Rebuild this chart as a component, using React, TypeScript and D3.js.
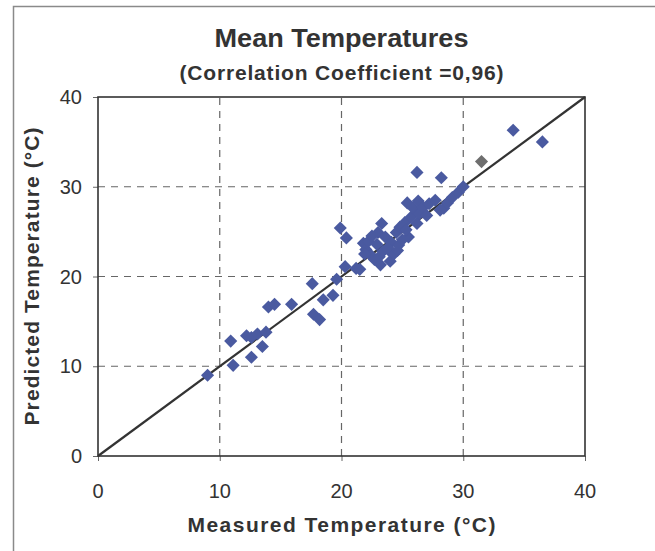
import React, { useEffect, useRef } from 'react';
import * as d3 from 'd3';

// measured vs predicted mean temperatures (°C)
const MEASURED = [
  9.0, 10.9, 11.1, 12.2, 12.6, 12.6, 13.1, 13.5, 13.8, 14.0, 14.5, 15.9,
  17.6, 17.7, 18.2, 18.5, 19.3, 19.6, 19.9, 20.4, 20.3, 21.2, 21.5, 21.8,
  22.0, 22.2, 22.4, 22.7, 22.9, 23.0, 23.2, 23.3, 23.4, 23.6, 23.9, 24.0,
  24.1, 24.3, 24.5, 24.7, 24.8, 25.0, 25.2, 25.4, 25.5, 25.7, 25.9, 26.2,
  26.3, 26.4, 26.7, 27.0, 27.2, 27.7, 28.1, 28.4, 28.7, 29.1, 29.6, 30.0,
  26.2, 28.2, 34.1, 36.5, 22.5, 23.8, 24.6, 25.3, 21.9, 23.1
];
const PREDICTED = [
  9.0, 12.8, 10.1, 13.4, 11.0, 13.2, 13.6, 12.2, 13.8, 16.6, 16.9, 16.9,
  19.2, 15.8, 15.2, 17.4, 17.9, 19.7, 25.4, 24.3, 21.1, 20.9, 20.8, 23.7,
  23.0, 23.9, 22.4, 21.9, 23.6, 24.9, 21.3, 25.9, 22.8, 24.4, 22.9, 21.7,
  23.8, 22.5, 24.9, 23.5, 25.5, 24.1, 26.0, 28.2, 24.4, 26.6, 27.6, 25.9,
  28.4, 27.0, 27.7, 26.8, 28.1, 28.5, 27.4, 27.6, 28.2, 28.8, 29.4, 30.0,
  31.6, 31.0, 36.3, 35.0, 24.5, 23.2, 22.9, 25.2, 22.5, 22.2
];
// the one grey point
const OUTLIER_MEASURED = [31.5];
const OUTLIER_PREDICTED = [32.8];

const TICKS = [0, 10, 20, 30, 40];
const DOMAIN: [number, number] = [0, 40];

const W = 655;
const H = 551;
const M = { left: 98, right: 70, top: 97, bottom: 95 };
const FONT = '"Liberation Sans", Arial, sans-serif';
const INK = '#333';

export default function App() {
  const ref = useRef<SVGSVGElement | null>(null);

  useEffect(() => {
    const svg = d3.select(ref.current);
    svg.selectAll('*').remove();

    const x = d3.scaleLinear().domain(DOMAIN).range([M.left, W - M.right]);
    const y = d3.scaleLinear().domain(DOMAIN).range([H - M.bottom, M.top]);

    svg.append('rect').attr('width', W).attr('height', H).attr('fill', '#fff');

    // outer chart frame (only top and left edges visible in the crop)
    svg.append('rect')
      .attr('x', 13.5).attr('y', 6.5)
      .attr('width', W + 20).attr('height', H + 20)
      .attr('fill', 'none').attr('stroke', '#8a8a8a').attr('stroke-width', 1.5);

    // dashed grid
    const grid = svg.append('g').attr('stroke', '#666').attr('stroke-width', 1.2)
      .attr('stroke-dasharray', '7,6');
    TICKS.slice(1, -1).forEach(t => {
      grid.append('line')
        .attr('x1', x(0)).attr('x2', x(40)).attr('y1', y(t)).attr('y2', y(t));
      grid.append('line')
        .attr('x1', x(t)).attr('x2', x(t)).attr('y1', y(0)).attr('y2', y(40));
    });

    // axes with outside tick marks
    const xAxis = d3.axisBottom(x).tickValues(TICKS).tickSize(5).tickFormat(() => '');
    const yAxis = d3.axisLeft(y).tickValues(TICKS).tickSize(5).tickFormat(() => '');
    const gx = svg.append('g').attr('transform', `translate(0,${y(0)})`).call(xAxis);
    const gy = svg.append('g').attr('transform', `translate(${x(0)},0)`).call(yAxis);
    [gx, gy].forEach(g => {
      g.select('.domain').remove();
      g.selectAll('line').attr('stroke', '#666');
    });

    svg.append('rect')
      .attr('x', x(0)).attr('y', y(40))
      .attr('width', x(40) - x(0)).attr('height', y(0) - y(40))
      .attr('fill', 'none').attr('stroke', INK).attr('stroke-width', 1.6);

    // tick labels
    svg.append('g').selectAll('text').data(TICKS).join('text')
      .attr('x', d => x(d)).attr('y', y(0) + 42)
      .attr('text-anchor', 'middle')
      .attr('font-family', FONT).attr('font-size', 20).attr('fill', INK)
      .text(d => d);
    svg.append('g').selectAll('text').data(TICKS).join('text')
      .attr('x', x(0) - 16).attr('y', d => y(d) + 7)
      .attr('text-anchor', 'end')
      .attr('font-family', FONT).attr('font-size', 20).attr('fill', INK)
      .text(d => d);

    // 1:1 line
    svg.append('path')
      .datum(DOMAIN)
      .attr('d', d3.line<number>().x(d => x(d)).y(d => y(d)))
      .attr('stroke', INK).attr('stroke-width', 2.2).attr('fill', 'none');

    // diamonds
    const diamond = d3.symbol(d3.symbolSquare, 86)();
    svg.append('g').selectAll('path').data(d3.range(MEASURED.length)).join('path')
      .attr('d', diamond)
      .attr('transform', i => `translate(${x(MEASURED[i])},${y(PREDICTED[i])}) rotate(45)`)
      .attr('fill', '#4a5aa0');
    svg.append('g').selectAll('path').data(d3.range(OUTLIER_MEASURED.length)).join('path')
      .attr('d', diamond)
      .attr('transform', i => `translate(${x(OUTLIER_MEASURED[i])},${y(OUTLIER_PREDICTED[i])}) rotate(45)`)
      .attr('fill', '#6e6e6e');

    // titles
    const cx = (x(0) + x(40)) / 2;
    svg.append('text')
      .attr('x', cx).attr('y', 47).attr('text-anchor', 'middle')
      .attr('font-family', FONT).attr('font-size', 26).attr('font-weight', 'bold').attr('fill', INK)
      .attr('textLength', 254).attr('lengthAdjust', 'spacingAndGlyphs')
      .text('Mean Temperatures');
    svg.append('text')
      .attr('x', cx).attr('y', 80).attr('text-anchor', 'middle')
      .attr('font-family', FONT).attr('font-size', 21).attr('font-weight', 'bold').attr('fill', INK)
      .attr('textLength', 324).attr('lengthAdjust', 'spacing')
      .text('(Correlation Coefficient =0,96)');
    svg.append('text')
      .attr('x', cx).attr('y', 532).attr('text-anchor', 'middle')
      .attr('font-family', FONT).attr('font-size', 21).attr('font-weight', 'bold').attr('fill', INK)
      .attr('textLength', 308).attr('lengthAdjust', 'spacing')
      .text('Measured Temperature (°C)');
    svg.append('text')
      .attr('transform', `translate(39,${(y(0) + y(40)) / 2}) rotate(-90)`)
      .attr('text-anchor', 'middle')
      .attr('font-family', FONT).attr('font-size', 21).attr('font-weight', 'bold').attr('fill', INK)
      .attr('textLength', 298).attr('lengthAdjust', 'spacing')
      .text('Predicted Temperature (°C)');
  }, []);

  return (
    <div style={{ position: 'fixed', left: 0, top: 0 }}>
      <svg ref={ref} width={W} height={H} style={{ display: 'block' }} />
    </div>
  );
}
